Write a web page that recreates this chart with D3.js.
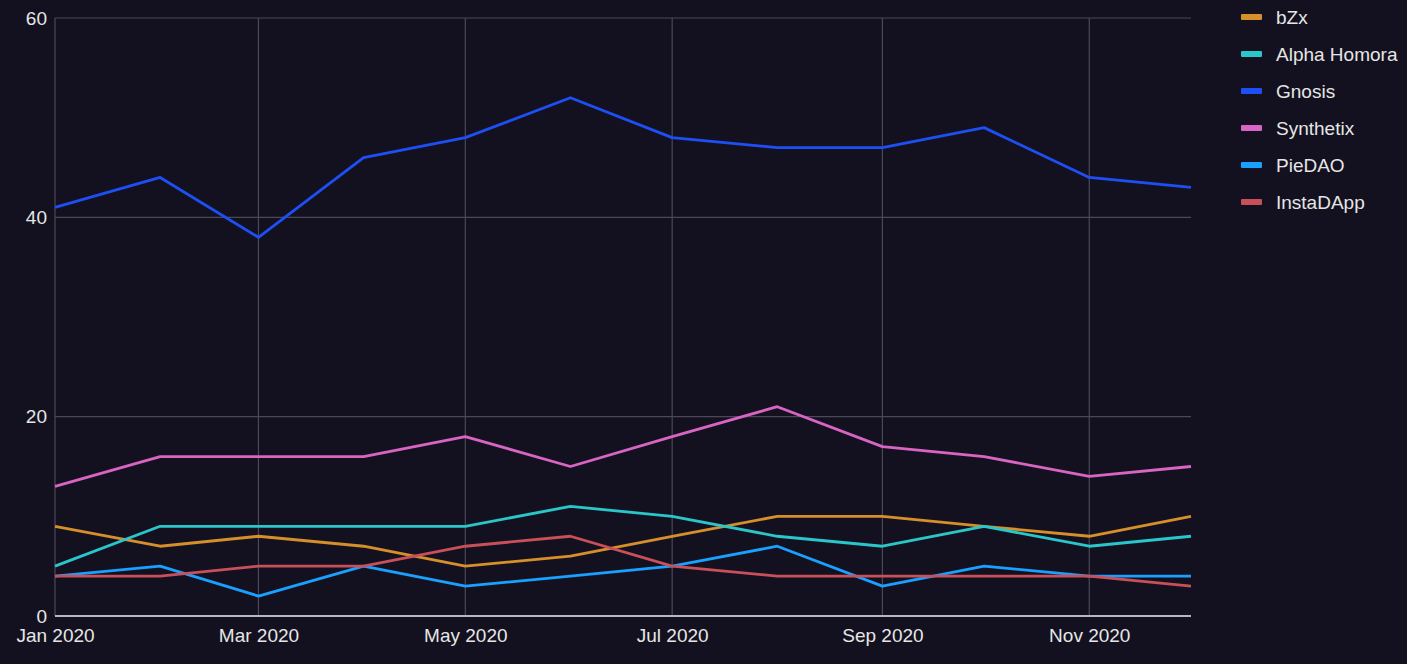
<!DOCTYPE html>
<html>
<head>
<meta charset="utf-8">
<script src="https://cdn.jsdelivr.net/npm/d3@7"></script>
<style>
  html, body { margin: 0; padding: 0; background: #13111f; }
  svg { display: block; }
  text { font-family: "Liberation Sans", Arial, sans-serif; }
</style>
</head>
<body>
<script>
var months = ["2020-01","2020-02","2020-03","2020-04","2020-05","2020-06","2020-07","2020-08","2020-09","2020-10","2020-11","2020-12"];
var seriesNames = ["bZx","Alpha Homora","Gnosis","Synthetix","PieDAO","InstaDApp"];
var seriesColors = ["#d68f2b","#2ac6ca","#1e4ff5","#d864c4","#1aa0ff","#c9505a"];
var bZx        = [9,7,8,7,5,6,8,10,10,9,8,10];
var alphaHomora= [5,9,9,9,9,11,10,8,7,9,7,8];
var gnosis     = [41,44,38,46,48,52,48,47,47,49,44,43];
var synthetix  = [13,16,16,16,18,15,18,21,17,16,14,15];
var pieDAO     = [4,5,2,5,3,4,5,7,3,5,4,4];
var instaDApp  = [4,4,5,5,7,8,5,4,4,4,4,3];
var seriesValues = [bZx, alphaHomora, gnosis, synthetix, pieDAO, instaDApp];
var yTicks = [0,20,40,60];

var width = 1407, height = 664;
var padLeft = 55, padRight = 1191, padTop = 18, padBottom = 616;

var parseMonth = d3.timeParse("%Y-%m");
var dates = months.map(function(m){ return parseMonth(m); });

var svg = d3.select("body").append("svg").attr("width", width).attr("height", height);
svg.append("rect").attr("width", width).attr("height", height).attr("fill", "#13111f");

var x = d3.scaleTime().domain([dates[0], dates[dates.length-1]]).range([padLeft, padRight]);
var y = d3.scaleLinear().domain([0, 60]).range([padBottom, padTop]);

// grid
var grid = svg.append("g");
grid.selectAll("line.h").data(yTicks.filter(function(d){ return d > 0; })).enter().append("line")
  .attr("x1", padLeft).attr("x2", padRight)
  .attr("y1", function(d){ return y(d); }).attr("y2", function(d){ return y(d); })
  .attr("stroke", "#4b4858").attr("stroke-width", 1.2);
var xTickDates = dates.filter(function(d, i){ return i % 2 === 0; });
grid.selectAll("line.v").data(xTickDates).enter().append("line")
  .attr("x1", function(d){ return x(d); }).attr("x2", function(d){ return x(d); })
  .attr("y1", padTop).attr("y2", padBottom)
  .attr("stroke", "#4b4858").attr("stroke-width", 1.2);

// axes
var yAxis = d3.axisLeft(y).tickValues(yTicks).tickSize(0).tickPadding(8);
var gy = svg.append("g").attr("transform", "translate(" + padLeft + ",0)").call(yAxis);
gy.select(".domain").remove();
gy.selectAll("text").attr("fill", "#e6e6e6").style("font-size", "19px");

var xAxis = d3.axisBottom(x).tickValues(xTickDates).tickSize(0).tickPadding(13)
  .tickFormat(d3.timeFormat("%b %Y"));
var gx = svg.append("g").attr("transform", "translate(0," + padBottom + ")").call(xAxis);
gx.select(".domain").remove();
gx.selectAll("text").attr("fill", "#e6e6e6").style("font-size", "19px");

svg.append("line").attr("x1", padLeft).attr("x2", padRight).attr("y1", padBottom).attr("y2", padBottom)
  .attr("stroke", "#b8b6c0").attr("stroke-width", 2);

// lines
var line = d3.line()
  .x(function(d, i){ return x(dates[i]); })
  .y(function(d){ return y(d); });

seriesValues.forEach(function(vals, s){
  svg.append("path")
    .attr("fill", "none")
    .attr("stroke", seriesColors[s])
    .attr("stroke-width", 2.8)
    .attr("stroke-linejoin", "round")
    .attr("d", line(vals));
});

// legend
var legend = svg.append("g").attr("transform", "translate(1241,17)");
seriesNames.forEach(function(name, i){
  var g = legend.append("g").attr("transform", "translate(0," + (i * 37) + ")");
  g.append("rect").attr("x", 0).attr("y", -3).attr("width", 21).attr("height", 6)
    .attr("rx", 1).attr("fill", seriesColors[i]);
  g.append("text").attr("x", 35).attr("y", 7).attr("fill", "#e6e6e6")
    .style("font-size", "19px").text(name);
});
</script>
</body>
</html>
